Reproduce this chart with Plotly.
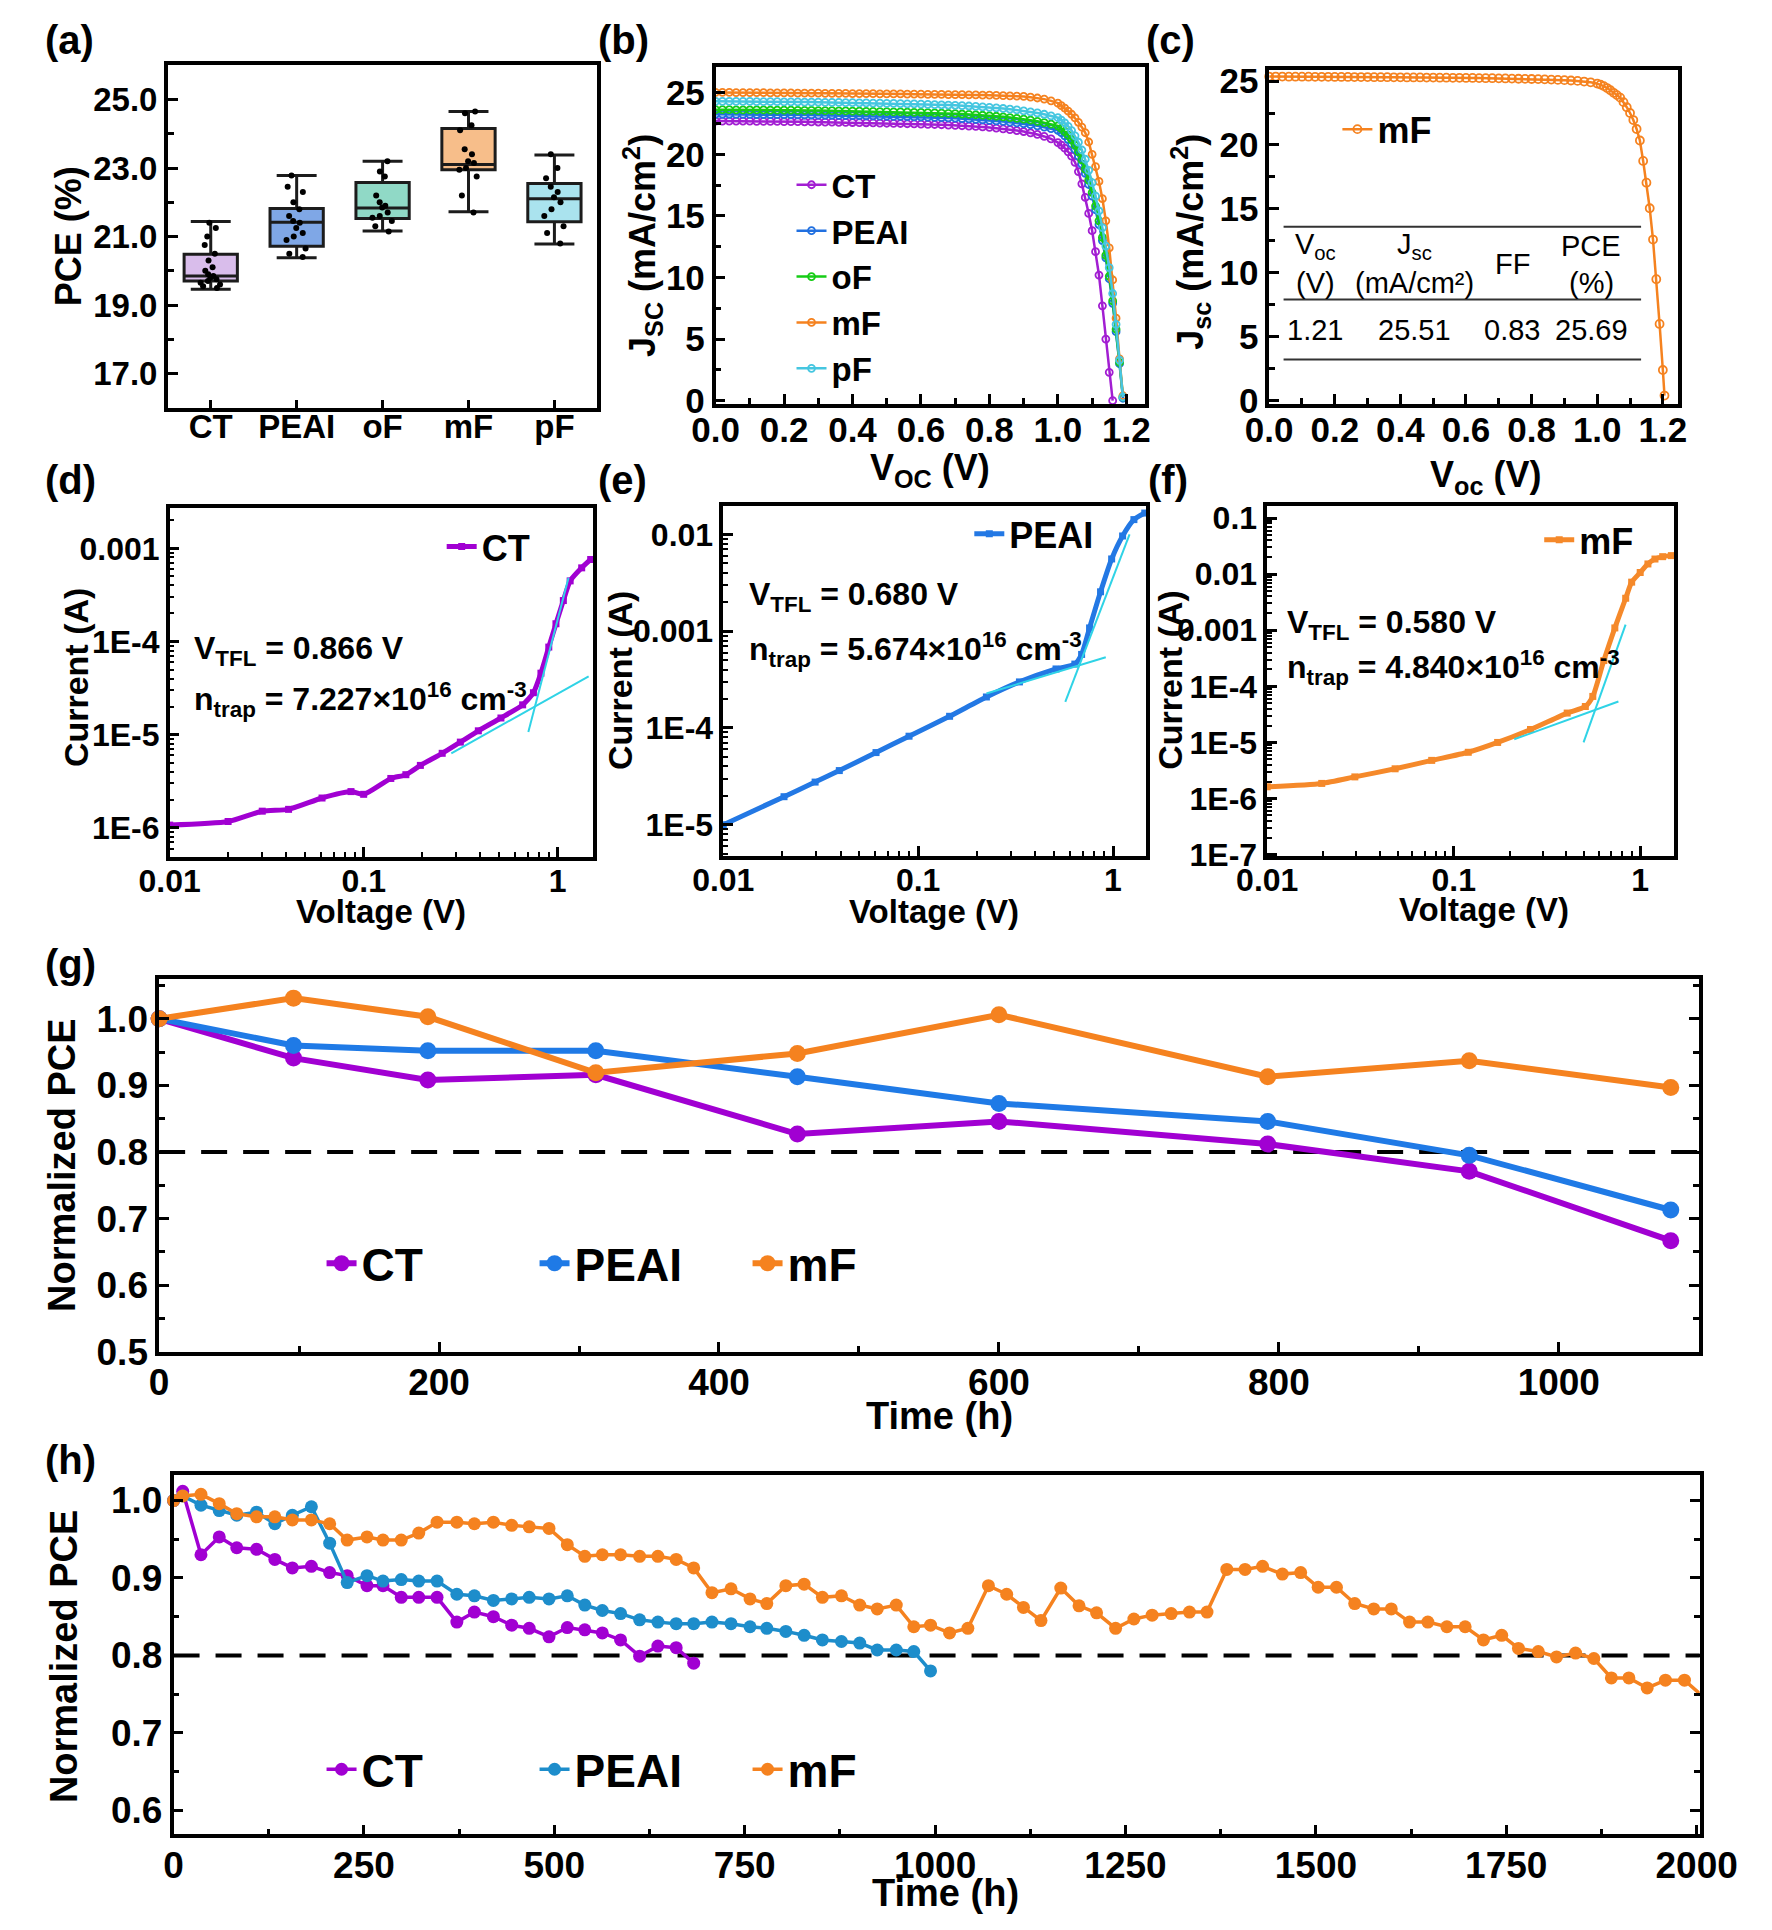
import plotly.graph_objects as go

W, H = 1772, 1930
FONT = "Arial, Liberation Sans, sans-serif"


def X(px):
    return px / W


def Y(py):
    return 1 - py / H


def F(size, bold=True, color="black"):
    return dict(family=FONT, size=size, color=color, weight="bold" if bold else "normal")


# ---------------- data ----------------
# (a) PCE statistics
CATS = ["CT", "PEAI", "oF", "mF", "pF"]
BOX_Q1 = [19.70, 20.72, 21.53, 22.95, 21.43]
BOX_MED = [19.85, 21.42, 21.83, 23.10, 22.10]
BOX_Q3 = [20.48, 21.82, 22.58, 24.15, 22.55]
BOX_LO = [19.46, 20.38, 21.16, 21.72, 20.78]
BOX_HI = [21.44, 22.78, 23.20, 24.65, 23.38]
PTS_CT = [21.40, 21.25, 21.00, 20.75, 20.50, 20.30, 20.10, 20.00, 19.90, 19.85, 19.80, 19.75, 19.70, 19.65, 19.60, 19.55, 19.50]
PTS_PEAI = [22.78, 22.45, 22.30, 22.00, 21.80, 21.60, 21.45, 21.40, 21.25, 21.10, 21.00, 20.90, 20.65, 20.50, 20.40]
PTS_OF = [23.20, 22.90, 22.75, 22.20, 22.00, 21.90, 21.85, 21.70, 21.60, 21.55, 21.45, 21.30, 21.15]
PTS_MF = [24.65, 24.60, 24.25, 24.10, 23.55, 23.40, 23.20, 23.15, 23.00, 22.95, 22.75, 22.20, 21.70]
PTS_PF = [23.40, 23.00, 22.70, 22.45, 22.30, 22.15, 22.00, 21.80, 21.60, 21.30, 21.10, 20.80]
BOX_PTS = [PTS_CT, PTS_PEAI, PTS_OF, PTS_MF, PTS_PF]

# (b) J-V curves
V_B = [0.00, 0.02, 0.04, 0.06, 0.08, 0.10, 0.12, 0.14, 0.16, 0.18, 0.20,
       0.22, 0.24, 0.26, 0.28, 0.30, 0.32, 0.34, 0.36, 0.38, 0.40,
       0.42, 0.44, 0.46, 0.48, 0.50, 0.52, 0.54, 0.56, 0.58, 0.60,
       0.62, 0.64, 0.66, 0.68, 0.70, 0.72, 0.74, 0.76, 0.78, 0.80,
       0.82, 0.84, 0.86, 0.88, 0.90, 0.92, 0.94, 0.96, 0.98, 1.00,
       1.01, 1.02, 1.03, 1.04, 1.05, 1.06, 1.07, 1.08, 1.09, 1.10,
       1.11, 1.12, 1.13, 1.14, 1.15, 1.16, 1.17, 1.18, 1.19]
J_CT = [22.70, 22.70, 22.70, 22.69, 22.69, 22.69, 22.68, 22.68, 22.67, 22.67, 22.66,
        22.65, 22.65, 22.64, 22.63, 22.62, 22.61, 22.61, 22.60, 22.59, 22.58,
        22.57, 22.56, 22.55, 22.53, 22.52, 22.51, 22.50, 22.48, 22.47, 22.45,
        22.43, 22.42, 22.40, 22.37, 22.35, 22.32, 22.29, 22.26, 22.22, 22.18,
        22.13, 22.07, 22.00, 21.93, 21.85, 21.74, 21.61, 21.45, 21.25, 20.95,
        20.75, 20.50, 20.20, 19.85, 19.35, 18.60, 17.60, 16.50, 15.20, 13.80,
        12.10, 10.20, 7.70, 5.00, 2.30, 0.00]
J_PEAI = [23.25, 23.25, 23.25, 23.24, 23.24, 23.24, 23.23, 23.23, 23.22, 23.22, 23.21,
          23.21, 23.20, 23.19, 23.19, 23.18, 23.17, 23.17, 23.16, 23.15, 23.14,
          23.13, 23.12, 23.11, 23.10, 23.09, 23.08, 23.07, 23.06, 23.04, 23.03,
          23.01, 22.99, 22.97, 22.95, 22.93, 22.90, 22.87, 22.84, 22.80, 22.76,
          22.72, 22.67, 22.61, 22.55, 22.48, 22.40, 22.31, 22.20, 22.08, 21.95,
          21.75, 21.50, 21.20, 20.85, 20.40, 19.85, 19.20, 18.45, 17.55, 16.60,
          15.50, 14.30, 13.00, 11.60, 9.90, 7.90, 5.60, 3.00, 0.20]
J_OF = [23.62, 23.62, 23.62, 23.61, 23.61, 23.61, 23.60, 23.60, 23.59, 23.59, 23.58,
        23.58, 23.57, 23.56, 23.56, 23.55, 23.54, 23.54, 23.53, 23.52, 23.51,
        23.50, 23.49, 23.48, 23.47, 23.46, 23.45, 23.44, 23.42, 23.41, 23.40,
        23.38, 23.36, 23.34, 23.32, 23.30, 23.27, 23.24, 23.21, 23.17, 23.13,
        23.09, 23.04, 22.98, 22.92, 22.85, 22.77, 22.68, 22.57, 22.45, 22.30,
        22.10, 21.85, 21.55, 21.20, 20.75, 20.20, 19.55, 18.80, 17.90, 16.90,
        15.80, 14.60, 13.25, 11.80, 10.10, 8.10, 5.80, 3.10, 0.30]
J_MF = [25.02, 25.02, 25.02, 25.01, 25.01, 25.01, 25.00, 25.00, 24.99, 24.99, 24.98,
        24.98, 24.97, 24.97, 24.96, 24.96, 24.95, 24.95, 24.94, 24.94, 24.93,
        24.93, 24.92, 24.92, 24.91, 24.91, 24.90, 24.90, 24.89, 24.88, 24.88,
        24.87, 24.86, 24.86, 24.85, 24.84, 24.84, 24.83, 24.82, 24.81, 24.80,
        24.79, 24.77, 24.75, 24.73, 24.70, 24.64, 24.57, 24.48, 24.34, 24.15,
        23.95, 23.75, 23.50, 23.25, 22.95, 22.60, 22.20, 21.75, 21.00, 20.00,
        19.00, 17.80, 16.40, 14.60, 12.40, 9.80, 6.70, 3.40, 0.40]
J_PF = [24.30, 24.30, 24.30, 24.29, 24.29, 24.29, 24.28, 24.28, 24.27, 24.27, 24.26,
        24.26, 24.25, 24.24, 24.24, 24.23, 24.22, 24.22, 24.21, 24.20, 24.19,
        24.18, 24.17, 24.16, 24.15, 24.14, 24.13, 24.12, 24.10, 24.09, 24.08,
        24.06, 24.04, 24.02, 24.00, 23.98, 23.95, 23.92, 23.89, 23.85, 23.81,
        23.77, 23.72, 23.66, 23.60, 23.53, 23.45, 23.36, 23.25, 23.12, 22.97,
        22.78, 22.55, 22.27, 21.93, 21.50, 20.98, 20.35, 19.60, 18.70, 17.70,
        16.60, 15.40, 14.05, 12.55, 10.80, 8.70, 6.20, 3.30, 0.30]
JV_NAMES = ["CT", "PEAI", "oF", "mF", "pF"]
JV_SERIES = [J_CT, J_PEAI, J_OF, J_MF, J_PF]
JV_COLORS = ["#A21ED2", "#2170E0", "#16CC16", "#F5821F", "#45C6E0"]

# (c) champion mF device
V_C = [0.00, 0.02, 0.04, 0.06, 0.08, 0.10, 0.12, 0.14, 0.16, 0.18, 0.20,
       0.22, 0.24, 0.26, 0.28, 0.30, 0.32, 0.34, 0.36, 0.38, 0.40,
       0.42, 0.44, 0.46, 0.48, 0.50, 0.52, 0.54, 0.56, 0.58, 0.60,
       0.62, 0.64, 0.66, 0.68, 0.70, 0.72, 0.74, 0.76, 0.78, 0.80,
       0.82, 0.84, 0.86, 0.88, 0.90, 0.92, 0.94, 0.96, 0.98, 1.00,
       1.01, 1.02, 1.03, 1.04, 1.05, 1.06, 1.07, 1.08, 1.09, 1.10,
       1.11, 1.12, 1.13, 1.14, 1.15, 1.16, 1.17, 1.18, 1.19, 1.20, 1.205]
J_C = [25.35, 25.35, 25.35, 25.34, 25.34, 25.34, 25.34, 25.33, 25.33, 25.33, 25.32,
       25.32, 25.32, 25.31, 25.31, 25.31, 25.30, 25.30, 25.30, 25.29, 25.29,
       25.28, 25.28, 25.28, 25.27, 25.27, 25.26, 25.26, 25.25, 25.25, 25.24,
       25.24, 25.23, 25.22, 25.22, 25.21, 25.20, 25.19, 25.18, 25.17, 25.16,
       25.15, 25.13, 25.11, 25.09, 25.07, 25.04, 25.01, 24.96, 24.90, 24.80,
       24.72, 24.60, 24.45, 24.28, 24.08, 23.90, 23.70, 23.35, 22.95, 22.50,
       21.95, 21.25, 20.35, 18.75, 17.05, 15.05, 12.60, 9.50, 6.00, 2.40, 0.40]
TABLE_HEAD_1 = ["V<sub>oc</sub>", "J<sub>sc</sub>", "FF", "PCE"]
TABLE_HEAD_2 = ["(V)", "(mA/cm²)", "", "(%)"]
TABLE_VALUES = ["1.21", "25.51", "0.83", "25.69"]

# (d)-(f) SCLC
V_D = [0.010, 0.020, 0.030, 0.041, 0.061, 0.086, 0.100, 0.138, 0.165, 0.196, 0.254, 0.315,
       0.390, 0.510, 0.660, 0.750, 0.820, 0.900, 0.980, 1.070, 1.160, 1.330, 1.480]
I_D = [1.07e-6, 1.17e-6, 1.51e-6, 1.58e-6, 2.09e-6, 2.45e-6, 2.29e-6, 3.39e-6, 3.72e-6, 4.68e-6,
       6.31e-6, 8.32e-6, 1.10e-5, 1.51e-5, 2.09e-5, 2.82e-5, 4.57e-5, 8.71e-5, 1.55e-4, 2.75e-4,
       4.47e-4, 6.17e-4, 7.59e-4]
FIT_D1_V = [0.283, 1.445]
FIT_D1_I = [6.31e-6, 4.22e-5]
FIT_D2_V = [0.706, 1.138]
FIT_D2_I = [1.07e-5, 4.84e-4]

V_E = [0.010, 0.0205, 0.0296, 0.0394, 0.0608, 0.0898, 0.145, 0.224, 0.331, 0.510, 0.637, 0.690,
       0.758, 0.863, 0.984, 1.120, 1.280, 1.455]
I_E = [1.00e-5, 1.95e-5, 2.76e-5, 3.63e-5, 5.57e-5, 8.22e-5, 1.32e-4, 2.09e-4, 2.99e-4, 4.07e-4,
       4.57e-4, 5.75e-4, 1.08e-3, 2.55e-3, 5.57e-3, 9.62e-3, 1.42e-2, 1.66e-2]
FIT_E1_V = [0.224, 0.918]
FIT_E1_I = [2.27e-4, 5.37e-4]
FIT_E2_V = [0.569, 1.216]
FIT_E2_I = [1.86e-4, 1.00e-2]

V_F = [0.010, 0.0196, 0.0295, 0.0485, 0.0762, 0.1197, 0.172, 0.258, 0.406, 0.508, 0.557, 0.638,
       0.731, 0.836, 0.900, 1.000, 1.100, 1.200, 1.320, 1.470]
I_F = [1.62e-6, 1.86e-6, 2.43e-6, 3.39e-6, 4.79e-6, 6.68e-6, 1.00e-5, 1.70e-5, 3.34e-5, 4.37e-5,
       6.61e-5, 2.88e-4, 1.10e-3, 3.72e-3, 7.20e-3, 1.07e-2, 1.52e-2, 1.86e-2, 2.05e-2, 2.14e-2]
FIT_F1_V = [0.211, 0.764]
FIT_F1_I = [1.14e-5, 5.37e-5]
FIT_F2_V = [0.497, 0.835]
FIT_F2_I = [1.00e-5, 1.26e-3]

# (g) stability
T_G = [0, 96, 192, 312, 456, 600, 792, 936, 1080]
G_CT = [1.000, 0.941, 0.908, 0.916, 0.827, 0.846, 0.812, 0.771, 0.667]
G_PEAI = [1.000, 0.960, 0.952, 0.952, 0.913, 0.873, 0.846, 0.795, 0.713]
G_MF = [1.000, 1.031, 1.003, 0.919, 0.948, 1.006, 0.913, 0.937, 0.897]

# (h) long-term stability
T_H_CT = [0, 12, 36, 60, 83, 109, 133, 156, 181, 205, 228, 254, 275, 299, 322, 346, 372, 395, 420, 444,
          467, 493, 517, 540, 563, 587, 612, 636, 660, 683]
H_CT = [1.000, 1.012, 0.930, 0.953, 0.939, 0.937, 0.924, 0.913, 0.915, 0.907,
        0.903, 0.890, 0.890, 0.875, 0.875, 0.875, 0.843, 0.856, 0.850, 0.839,
        0.835, 0.824, 0.836, 0.833, 0.829, 0.820, 0.799, 0.812, 0.810, 0.790]
T_H_PEAI = [0, 12, 36, 60, 83, 109, 133, 156, 181, 205, 228, 254, 275, 299, 322, 346, 372, 395, 420, 444,
            467, 493, 517, 540, 563, 587, 612, 636, 660, 683, 707, 732, 757, 779, 804, 828, 852, 877, 901, 924,
            949, 972, 994]
H_PEAI = [1.000, 1.006, 0.994, 0.987, 0.981, 0.985, 0.970, 0.981, 0.992, 0.945,
          0.894, 0.903, 0.896, 0.898, 0.896, 0.896, 0.879, 0.877, 0.871, 0.873,
          0.875, 0.873, 0.877, 0.865, 0.858, 0.854, 0.846, 0.843, 0.841, 0.841,
          0.843, 0.841, 0.837, 0.835, 0.831, 0.826, 0.820, 0.818, 0.816, 0.807,
          0.807, 0.805, 0.780]
T_H_MF = [0, 12, 36, 60, 83, 109, 133, 156, 181, 205, 228, 254, 275, 299, 322, 346, 372, 395, 420, 444,
          467, 493, 517, 540, 563, 587, 612, 636, 660, 683, 707, 732, 757, 779, 804, 828, 852, 877, 901, 924,
          949, 972, 994, 1019, 1043, 1070, 1094, 1116, 1139, 1165, 1189, 1212, 1237, 1261, 1285, 1310, 1334,
          1357, 1383, 1407, 1430, 1456, 1480, 1503, 1527, 1551, 1576, 1599, 1623, 1647, 1672, 1696, 1720,
          1744, 1766, 1792, 1816, 1841, 1865, 1888, 1911, 1935, 1959, 1984, 2006]
H_MF = [1.000, 1.006, 1.008, 0.996, 0.983, 0.979, 0.979, 0.975, 0.975, 0.970,
        0.949, 0.953, 0.949, 0.949, 0.958, 0.972, 0.972, 0.970, 0.972, 0.968,
        0.966, 0.964, 0.943, 0.928, 0.930, 0.930, 0.928, 0.928, 0.924, 0.913,
        0.881, 0.886, 0.873, 0.867, 0.890, 0.892, 0.875, 0.877, 0.865, 0.860,
        0.865, 0.837, 0.839, 0.829, 0.835, 0.890, 0.879, 0.862, 0.845, 0.887,
        0.864, 0.855, 0.835, 0.847, 0.852, 0.854, 0.856, 0.856, 0.911, 0.911,
        0.915, 0.905, 0.907, 0.888, 0.888, 0.867, 0.860, 0.860, 0.843, 0.843,
        0.837, 0.837, 0.820, 0.826, 0.809, 0.805, 0.798, 0.803, 0.796, 0.771,
        0.771, 0.758, 0.768, 0.768, 0.749]

# ---------------- styles ----------------
C_PURPLE = "#A100D2"
C_BLUE_G = "#1F7AE6"
C_BLUE_H = "#1D8DCB"
C_ORANGE = "#F5821F"
C_FIT = "#2FD3E6"
BOX_FILL = ["#D9BDEB", "#7FA7E6", "#90D9C6", "#F7BE8A", "#AAE3EE"]

LOG_MINOR = [k * 10.0 ** e for e in range(-8, 1) for k in range(2, 10)]


def xd(l, r):
    return [l / W, r / W]


def yd(top, bottom):
    return [1 - bottom / H, 1 - top / H]


def axis(dom, rng, size, **kw):
    d = dict(domain=dom, range=rng, showline=True, linewidth=3.5, linecolor="black",
             mirror=True, ticks="inside", ticklen=10, tickwidth=3, tickcolor="black",
             showgrid=False, zeroline=False, tickfont=F(size), fixedrange=True)
    d.update(kw)
    return d


def minor_lin(dt):
    return dict(dtick=dt, ticks="inside", ticklen=6, tickwidth=2.5, tickcolor="black", showgrid=False)


def minor_log():
    return dict(tickmode="array", tickvals=LOG_MINOR, ticks="inside", ticklen=5,
                tickwidth=2, tickcolor="black", showgrid=False)


fig = go.Figure()

# (a) box chart
for i, c in enumerate(CATS):
    fig.add_trace(go.Box(x=[c], q1=[BOX_Q1[i]], median=[BOX_MED[i]], q3=[BOX_Q3[i]],
                         lowerfence=[BOX_LO[i]], upperfence=[BOX_HI[i]],
                         fillcolor=BOX_FILL[i], line=dict(color="#1c1c1c", width=3),
                         whiskerwidth=0.75, width=0.62, boxpoints=False,
                         xaxis="x", yaxis="y", showlegend=False, hoverinfo="skip"))
for i, c in enumerate(CATS):
    pts = BOX_PTS[i]
    fig.add_trace(go.Box(x=[c] * len(pts), y=pts, boxpoints="all", jitter=0.45, pointpos=0,
                         marker=dict(color="black", size=6),
                         fillcolor="rgba(0,0,0,0)", line=dict(width=0, color="rgba(0,0,0,0)"),
                         width=0.62, whiskerwidth=0, xaxis="x", yaxis="y",
                         showlegend=False, hoverinfo="skip"))

# (b) J-V
for n, j, col in zip(JV_NAMES, JV_SERIES, JV_COLORS):
    fig.add_trace(go.Scatter(x=V_B[:len(j)], y=j, name=n, mode="lines+markers",
                             line=dict(color=col, width=2.5),
                             marker=dict(symbol="circle-open", size=7, color=col, line=dict(width=1.8)),
                             xaxis="x2", yaxis="y2", legend="legend"))

# (c) champion
fig.add_trace(go.Scatter(x=V_C, y=J_C, name="mF", mode="lines+markers",
                         line=dict(color=C_ORANGE, width=2.5),
                         marker=dict(symbol="circle-open", size=8, color=C_ORANGE, line=dict(width=1.8)),
                         xaxis="x3", yaxis="y3", legend="legend2", cliponaxis=False))

# (d)-(f) SCLC
sclc = [
    ("CT", V_D, I_D, C_PURPLE, [(FIT_D1_V, FIT_D1_I), (FIT_D2_V, FIT_D2_I)], "x4", "y4", "legend3"),
    ("PEAI", V_E, I_E, "#2378E4", [(FIT_E1_V, FIT_E1_I), (FIT_E2_V, FIT_E2_I)], "x5", "y5", "legend4"),
    ("mF", V_F, I_F, "#F5892A", [(FIT_F1_V, FIT_F1_I), (FIT_F2_V, FIT_F2_I)], "x6", "y6", "legend5"),
]
for n, vv, ii, col, fits, xa, ya, lg in sclc:
    fig.add_trace(go.Scatter(x=vv, y=ii, name=n, mode="lines+markers",
                             line=dict(color=col, width=5, shape="spline", smoothing=0.6),
                             marker=dict(symbol="square", size=7, color=col),
                             xaxis=xa, yaxis=ya, legend=lg, cliponaxis=False))
    for fv, fi in fits:
        fig.add_trace(go.Scatter(x=fv, y=fi, mode="lines", line=dict(color=C_FIT, width=2),
                                 xaxis=xa, yaxis=ya, showlegend=False, hoverinfo="skip"))

# (g)
for n, yy, col in [("CT", G_CT, C_PURPLE), ("PEAI", G_PEAI, C_BLUE_G), ("mF", G_MF, C_ORANGE)]:
    fig.add_trace(go.Scatter(x=T_G, y=yy, name=n, mode="lines+markers",
                             line=dict(color=col, width=6),
                             marker=dict(symbol="circle", size=17, color=col),
                             xaxis="x7", yaxis="y7", legend="legend6", cliponaxis=False))

# (h)
for n, tt, yy, col in [("CT", T_H_CT, H_CT, C_PURPLE), ("PEAI", T_H_PEAI, H_PEAI, C_BLUE_H),
                       ("mF", T_H_MF, H_MF, C_ORANGE)]:
    fig.add_trace(go.Scatter(x=tt, y=yy, name=n, mode="lines+markers",
                             line=dict(color=col, width=3.5),
                             marker=dict(symbol="circle", size=13, color=col),
                             xaxis="x8", yaxis="y8", legend="legend7", cliponaxis=False))

# ---------------- layout ----------------
layout = dict(width=W, height=H, margin=dict(l=0, r=0, t=0, b=0),
              paper_bgcolor="white", plot_bgcolor="white", boxmode="overlay",
              showlegend=True, font=F(30))

layout["xaxis"] = axis(xd(134, 581), [-0.5, 4.5], 33, type="category", anchor="y", ticklen=8,
                       ticklabelstandoff=-13)
layout["yaxis"] = axis(yd(49, 397), [16, 26], 33, anchor="x", tick0=17, dtick=2,
                       tickformat=".1f", minor=minor_lin(1))

layout["xaxis2"] = axis(xd(704, 1151), [0, 1.255], 35, anchor="y2", tick0=0, dtick=0.2,
                        tickformat=".1f", minor=minor_lin(0.1), ticklabelstandoff=-8)
layout["yaxis2"] = axis(yd(51, 393), [-0.26, 27.07], 35, anchor="x2", tick0=0, dtick=5,
                        minor=minor_lin(2.5))

layout["xaxis3"] = axis(xd(1280, 1705), [0, 1.245], 35, anchor="y3", tick0=0, dtick=0.2,
                        tickformat=".1f", minor=minor_lin(0.1), ticklabelstandoff=-8)
layout["yaxis3"] = axis(yd(54, 393), [-0.25, 25.85], 35, anchor="x3", tick0=0, dtick=5,
                        minor=minor_lin(2.5))

X_LOG_VALS = [0.01, 0.1, 1]
X_LOG_TEXT = ["0.01", "0.1", "1"]
layout["xaxis4"] = axis(xd(136, 576), [-2, 0.18], 32, type="log", anchor="y4",
                        tickmode="array", tickvals=X_LOG_VALS, ticktext=X_LOG_TEXT, minor=minor_log(),
                        ticklabelstandoff=-7)
layout["yaxis4"] = axis(yd(499, 853), [-6.31, -2.57], 32, type="log", anchor="x4",
                        tickmode="array", tickvals=[1e-3, 1e-4, 1e-5, 1e-6],
                        ticktext=["0.001", "1E-4", "1E-5", "1E-6"], minor=minor_log())
layout["xaxis5"] = axis(xd(712, 1152), [-2, 0.17], 32, type="log", anchor="y5",
                        tickmode="array", tickvals=X_LOG_VALS, ticktext=X_LOG_TEXT, minor=minor_log(),
                        ticklabelstandoff=-7)
layout["yaxis5"] = axis(yd(497, 852), [-5.32, -1.71], 32, type="log", anchor="x5",
                        tickmode="array", tickvals=[1e-2, 1e-3, 1e-4, 1e-5],
                        ticktext=["0.01", "0.001", "1E-4", "1E-5"], minor=minor_log())
layout["xaxis6"] = axis(xd(1278, 1701), [-2, 0.18], 32, type="log", anchor="y6",
                        tickmode="array", tickvals=X_LOG_VALS, ticktext=X_LOG_TEXT, minor=minor_log(),
                        ticklabelstandoff=-7)
layout["yaxis6"] = axis(yd(497, 852), [-7.02, -0.79], 32, type="log", anchor="x6",
                        tickmode="array", tickvals=[1e-1, 1e-2, 1e-3, 1e-4, 1e-5, 1e-6, 1e-7],
                        ticktext=["0.1", "0.01", "0.001", "1E-4", "1E-5", "1E-6", "1E-7"],
                        minor=minor_log())

layout["xaxis7"] = axis(xd(125, 1727), [0, 1100], 37, anchor="y7", tick0=0, dtick=200,
                        minor=minor_lin(100), ticklabelstandoff=-5)
layout["yaxis7"] = axis(yd(977, 1356), [0.5, 1.06], 37, anchor="x7", tick0=0.5, dtick=0.1,
                        tickformat=".1f", mirror="ticks", minor=minor_lin(0.05))
layout["xaxis8"] = axis(xd(140, 1728), [0, 2004], 37, anchor="y8", tick0=0, dtick=250,
                        minor=minor_lin(125), ticklabelstandoff=-4)
layout["yaxis8"] = axis(yd(1481, 1846), [0.569, 1.033], 37, anchor="x8", tick0=0.6, dtick=0.1,
                        tickformat=".1f", mirror="ticks", minor=minor_lin(0.05))


def leg(x, y, size, yanchor="middle", **kw):
    d = dict(x=X(x), y=Y(y), xanchor="left", yanchor=yanchor, font=F(size),
             bgcolor="rgba(0,0,0,0)", borderwidth=0, tracegroupgap=0)
    d.update(kw)
    return d


layout["legend"] = leg(783, 142, 33, yanchor="top")
layout["legend2"] = leg(1351, 114, 36)
layout["legend3"] = leg(419, 538, 36)
layout["legend4"] = leg(968, 525, 36)
layout["legend5"] = leg(1561, 531, 36)
layout["legend6"] = leg(294, 1266, 46, orientation="h", entrywidth=168)
layout["legend7"] = leg(294, 1780, 46, orientation="h", entrywidth=168)

ann = []


def text(x, y, s, size, bold=True, xanchor="center", angle=0):
    ann.append(dict(x=X(x), y=Y(y), xref="paper", yref="paper", text=s, showarrow=False,
                    font=F(size, bold), xanchor=xanchor, yanchor="middle", textangle=angle))


# panel labels
for lab, px, py in [("(a)", 4, 23), ("(b)", 580, 23), ("(c)", 1150, 23), ("(d)", 4, 470),
                    ("(e)", 580, 470), ("(f)", 1152, 470), ("(g)", 4, 962), ("(h)", 4, 1466)]:
    text(px, py, lab, 40, xanchor="left")

# axis titles
text(31, 223, "PCE (%)", 36, angle=-90)
text(628, 232, "J<sub>SC</sub> (mA/cm<sup>2</sup>)", 36, angle=-90)
text(927, 460, "V<sub>OC</sub> (V)", 36)
text(1198, 228, "J<sub>sc</sub> (mA/cm<sup>2</sup>)", 36, angle=-90)
text(1505, 467, "V<sub>oc</sub> (V)", 36)
text(38, 671, "Current (A)", 34, angle=-90)
text(356, 909, "Voltage (V)", 33)
text(604, 674, "Current (A)", 34, angle=-90)
text(931, 909, "Voltage (V)", 33)
text(1176, 674, "Current (A)", 34, angle=-90)
text(1504, 907, "Voltage (V)", 33)
text(24, 1166, "Normalized PCE", 38, angle=-90)
text(937, 1421, "Time (h)", 38)
text(26, 1665, "Normalized PCE", 38, angle=-90)
text(943, 1906, "Time (h)", 38)

# SCLC annotations
text(159, 643, "V<sub>TFL</sub> = 0.866 V", 32, xanchor="left")
text(159, 693, "n<sub>trap</sub> = 7.227×10<sup>16</sup> cm<sup>-3</sup>", 32, xanchor="left")
text(737, 589, "V<sub>TFL</sub> = 0.680 V", 32, xanchor="left")
text(737, 642, "n<sub>trap</sub> = 5.674×10<sup>16</sup> cm<sup>-3</sup>", 32, xanchor="left")
text(1297, 617, "V<sub>TFL</sub> = 0.580 V", 32, xanchor="left")
text(1297, 661, "n<sub>trap</sub> = 4.840×10<sup>16</sup> cm<sup>-3</sup>", 32, xanchor="left")

# table in (c)
COL_X = [1328, 1431, 1533, 1615]
for cx, h1, h2, v in zip(COL_X, TABLE_HEAD_1, TABLE_HEAD_2, TABLE_VALUES):
    if h2:
        text(cx, 233, h1, 29, bold=False)
        text(cx, 270, h2, 29, bold=False)
    else:
        text(cx, 251, h1, 29, bold=False)
    text(cx, 318, v, 29, bold=False)

shapes = []
for ty in [213, 287, 348]:
    shapes.append(dict(type="line", xref="paper", yref="paper", x0=X(1295), x1=X(1667),
                       y0=Y(ty), y1=Y(ty), line=dict(color="#333333", width=2)))
for xr, yr in [("x7 domain", "y7"), ("x8 domain", "y8")]:
    shapes.append(dict(type="line", xref=xr, yref=yr, x0=0, x1=1, y0=0.8, y1=0.8,
                       line=dict(color="black", width=4, dash="26px,16px"), layer="below"))

layout["annotations"] = ann
layout["shapes"] = shapes
fig.update_layout(**layout)

fig.write_html("out.html")
